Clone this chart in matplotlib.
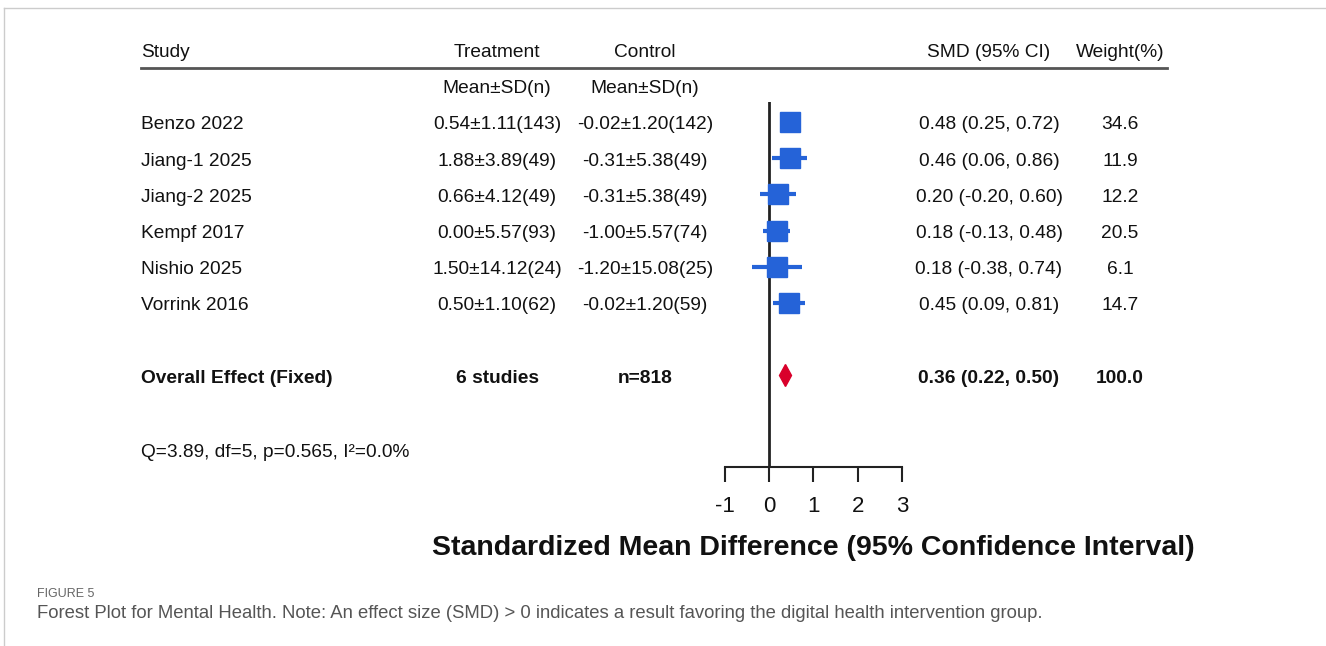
import matplotlib
matplotlib.use("Agg")
import matplotlib.pyplot as plt
from matplotlib.lines import Line2D
from matplotlib.transforms import blended_transform_factory

plt.rcParams["font.family"] = ["Liberation Sans", "DejaVu Sans"]

# %% data
studies = ["Benzo 2022", "Jiang-1 2025", "Jiang-2 2025", "Kempf 2017", "Nishio 2025", "Vorrink 2016"]
treat_mean = [0.54, 1.88, 0.66, 0.00, 1.50, 0.50]
treat_sd = [1.11, 3.89, 4.12, 5.57, 14.12, 1.10]
treat_n = [143, 49, 49, 93, 24, 62]
ctrl_mean = [-0.02, -0.31, -0.31, -1.00, -1.20, -0.02]
ctrl_sd = [1.20, 5.38, 5.38, 5.57, 15.08, 1.20]
ctrl_n = [142, 49, 49, 74, 25, 59]
smd = [0.48, 0.46, 0.20, 0.18, 0.18, 0.45]
ci_lo = [0.25, 0.06, -0.20, -0.13, -0.38, 0.09]
ci_hi = [0.72, 0.86, 0.60, 0.48, 0.74, 0.81]
weights = [34.6, 11.9, 12.2, 20.5, 6.1, 14.7]

pooled_smd = 0.36
pooled_lo = 0.22
pooled_hi = 0.50
total_n = 818
q_stat = "Q=3.89, df=5, p=0.565, I²=0.0%"
xticks = [-1, 0, 1, 2, 3]

W, H = 1326, 646
fig = plt.figure(figsize=(W / 100, H / 100), dpi=100)

# forest axes: x from -1 to 3, spans px 725..902, y in row units
ax = fig.add_axes([725 / W, 1 - 467 / H, 177 / W, (467 - 102) / H])
ax.set_xlim(-1, 3)
ax.set_ylim(10.53, 0.448)
for s in ["top", "right", "left"]:
    ax.spines[s].set_visible(False)
ax.spines["bottom"].set_linewidth(1.5)
ax.spines["bottom"].set_color("#222222")
ax.set_yticks([])
ax.set_xticks(xticks)
ax.set_xticklabels([str(t) for t in xticks])
ax.tick_params(axis="x", direction="out", length=11, width=1.5, color="#222222",
               labelsize=16, pad=10, labelcolor="#111111")
ax.set_xlabel("Standardized Mean Difference (95% Confidence Interval)",
              fontsize=20.5, fontweight="bold", labelpad=13, color="#111111")
ax.axvline(0, color="#222222", lw=2)

rows = list(range(1, len(studies) + 1))
blue = "#2563D8"
for r, m, lo, hi in zip(rows, smd, ci_lo, ci_hi):
    ax.plot([lo, hi], [r, r], color=blue, lw=3, solid_capstyle="butt", clip_on=False)
    ax.plot(m, r, marker="s", ms=14, color=blue, mec=blue, clip_on=False)
overall_row = 8
ax.plot(pooled_smd, overall_row, marker="d", ms=11, color="#D9002B", mec="#D9002B", clip_on=False)

# text columns
tr = blended_transform_factory(fig.transFigure, ax.transData)
fs = 13.8
dy = 0.08  # small downward nudge so text centres sit on the rows
col_study = 141 / W
col_treat = 497 / W
col_ctrl = 645 / W
col_smd = 989 / W
col_w = 1120 / W
kw = dict(transform=tr, fontsize=fs, va="center", color="#111111", clip_on=False)

ax.text(col_study, -1 + dy, "Study", ha="left", **kw)
ax.text(col_treat, -1 + dy, "Treatment", ha="center", **kw)
ax.text(col_ctrl, -1 + dy, "Control", ha="center", **kw)
ax.text(col_smd, -1 + dy, "SMD (95% CI)", ha="center", **kw)
ax.text(col_w, -1 + dy, "Weight(%)", ha="center", **kw)
ax.add_line(Line2D([141 / W, 1167 / W], [-0.49, -0.49], transform=tr, color="#555555",
                   lw=2, clip_on=False))
ax.text(col_treat, dy, "Mean±SD(n)", ha="center", **kw)
ax.text(col_ctrl, dy, "Mean±SD(n)", ha="center", **kw)

for i, r in enumerate(rows):
    y = r + dy
    ax.text(col_study, y, studies[i], ha="left", **kw)
    ax.text(col_treat, y, f"{treat_mean[i]:.2f}±{treat_sd[i]:.2f}({treat_n[i]})", ha="center", **kw)
    ax.text(col_ctrl, y, f"{ctrl_mean[i]:.2f}±{ctrl_sd[i]:.2f}({ctrl_n[i]})", ha="center", **kw)
    ax.text(col_smd, y, f"{smd[i]:.2f} ({ci_lo[i]:.2f}, {ci_hi[i]:.2f})", ha="center", **kw)
    ax.text(col_w, y, f"{weights[i]:.1f}", ha="center", **kw)

y = overall_row + dy
ax.text(col_study, y, "Overall Effect (Fixed)", ha="left", fontweight="bold", **kw)
ax.text(col_treat, y, f"{len(studies)} studies", ha="center", fontweight="bold", **kw)
ax.text(col_ctrl, y, f"n={total_n}", ha="center", fontweight="bold", **kw)
ax.text(col_smd, y, f"{pooled_smd:.2f} ({pooled_lo:.2f}, {pooled_hi:.2f})",
        ha="center", fontweight="bold", **kw)
ax.text(col_w, y, f"{sum(weights):.1f}", ha="center", fontweight="bold", **kw)
ax.text(col_study, 10.06 + dy, q_stat, ha="left", **kw)

# caption and frame
fig.add_artist(Line2D([4 / W, 4 / W], [0, 1 - 8 / H], color="#cccccc", lw=1))
fig.add_artist(Line2D([4 / W, 1], [1 - 8 / H, 1 - 8 / H], color="#cccccc", lw=1))
fig.text(37 / W, 1 - 594 / H, "FIGURE 5", fontsize=9, color="#666666", va="center")
fig.text(37 / W, 1 - 614 / H,
         "Forest Plot for Mental Health. Note: An effect size (SMD) > 0 indicates a result "
         "favoring the digital health intervention group.",
         fontsize=13.3, color="#555555", va="center")

fig.savefig("out.png", dpi=100)
